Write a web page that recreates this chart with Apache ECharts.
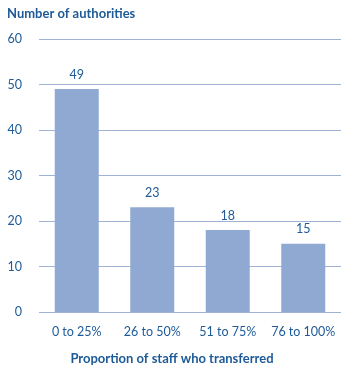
<!DOCTYPE html>
<html>
<head>
<meta charset="utf-8">
<script src="https://cdn.jsdelivr.net/npm/echarts@6/dist/echarts.min.js"></script>
<style>
  html, body { margin: 0; padding: 0; background: #fff; }
  #chart { width: 354px; height: 370px; }
</style>
</head>
<body>
<div id="chart"></div>
<script>
const categories = ['0 to 25%', '26 to 50%', '51 to 75%', '76 to 100%'];
const authorities = [49, 23, 18, 15];
const yTicks = [0, 10, 20, 30, 40, 50, 60];

const textColor = '#1d5a97';
const font = 'Lato';

const chart = echarts.init(document.getElementById('chart'), null, { renderer: 'canvas' });

chart.setOption({
  animation: false,
  backgroundColor: '#fff',
  title: {
    text: 'Number of authorities',
    left: 2,
    top: 2,
    textStyle: { color: textColor, fontFamily: font, fontSize: 13, fontWeight: 'bold' },
  },
  grid: { top: 39, left: 39, right: 13, bottom: 57 },
  xAxis: {
    type: 'category',
    data: categories,
    name: 'Proportion of staff who transferred',
    nameLocation: 'middle',
    nameGap: 40,
    nameTextStyle: {
      color: textColor, fontFamily: font, fontSize: 13, fontWeight: 'bold',
      padding: [0, 36, 0, 0],
    },
    axisLine: { show: false },
    axisTick: { show: false },
    axisLabel: { color: textColor, fontFamily: font, fontSize: 12.5, margin: 13, interval: 0 },
  },
  yAxis: {
    type: 'value',
    min: yTicks[0],
    max: yTicks[yTicks.length - 1],
    interval: 10,
    axisLine: { show: false },
    axisTick: { show: false },
    axisLabel: { color: textColor, fontFamily: font, fontSize: 12.5, margin: 17 },
    splitLine: { lineStyle: { color: '#9fb1d4', width: 1 } },
  },
  series: [{
    type: 'bar',
    data: authorities,
    barWidth: 44,
    itemStyle: { color: '#8fa9d2' },
    label: {
      show: true,
      position: 'top',
      distance: 8,
      color: textColor,
      fontFamily: font,
      fontSize: 12.5,
    },
  }],
});
</script>
</body>
</html>
